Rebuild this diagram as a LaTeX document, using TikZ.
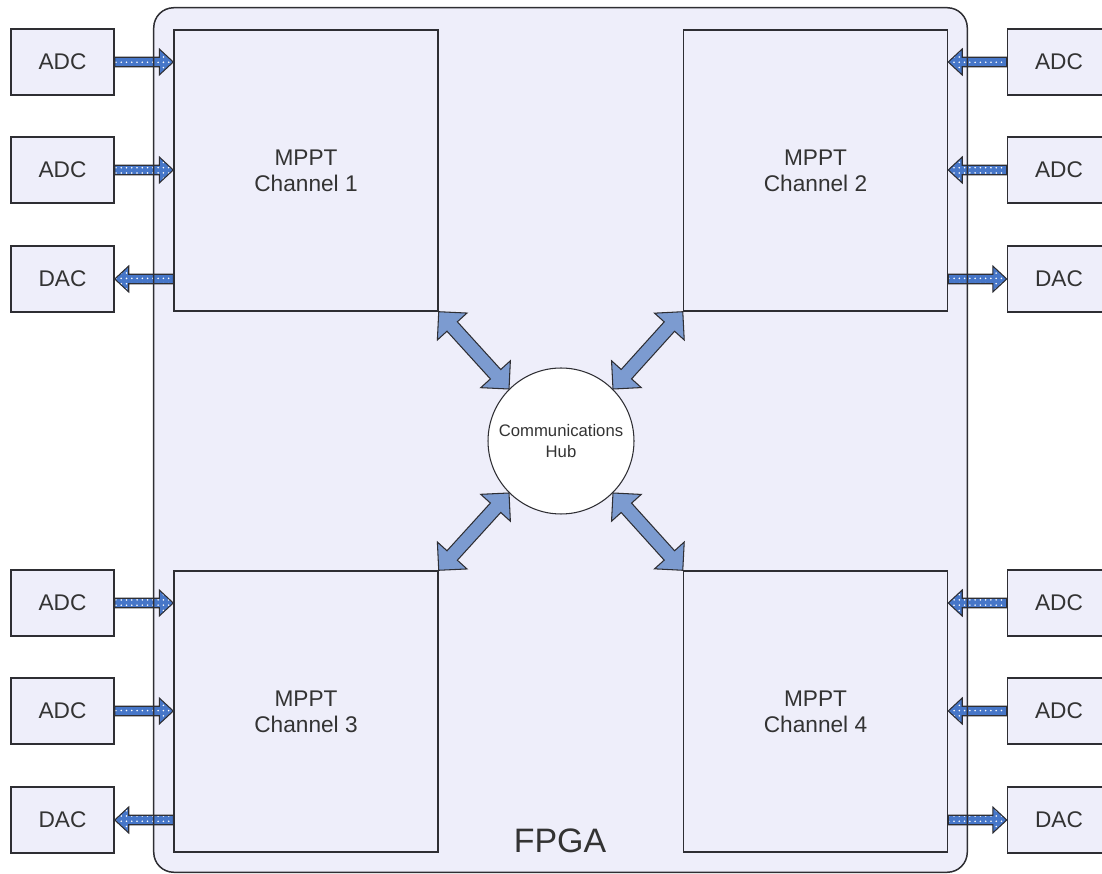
\documentclass[tikz,border=0pt]{standalone}
\usepackage{fontspec}
\setmainfont{Liberation Sans}
\usetikzlibrary{calc,patterns}
\definecolor{fpFill}{HTML}{EEEEFA}
\definecolor{fpLine}{HTML}{2E2E33}
\definecolor{fpText}{HTML}{333333}
\definecolor{fpArrow}{HTML}{7C9BD0}
\definecolor{fpDot}{HTML}{4676C8}

% block arrow, one head (signal lines)
\newcommand{\sigarrow}[2]{%
  \coordinate (sa) at (#1);
  \coordinate (sb) at (#2);
  \coordinate (sh) at ($(sb)!0.28cm!(sa)$);
  \draw[sigarr] ($(sa)!0.095cm!90:(sb)$) -- ($(sh)!0.095cm!90:(sb)$)
    -- ($(sh)!0.26cm!90:(sb)$) -- (sb) -- ($(sh)!0.26cm!-90:(sb)$)
    -- ($(sh)!0.095cm!-90:(sb)$) -- ($(sa)!0.095cm!-90:(sb)$) -- cycle;}

% block arrow, two heads (to the hub)
\newcommand{\hubarrow}[2]{%
  \coordinate (ha) at (#1);
  \coordinate (hb) at (#2);
  \coordinate (hp) at ($(ha)!0.4cm!(hb)$);
  \coordinate (hq) at ($(hb)!0.4cm!(ha)$);
  \draw[hubarr] (ha) -- ($(hp)!0.4cm!90:(hb)$) -- ($(hp)!0.14cm!90:(hb)$)
    -- ($(hq)!0.14cm!90:(hb)$) -- ($(hq)!0.4cm!90:(hb)$) -- (hb)
    -- ($(hq)!0.4cm!-90:(hb)$) -- ($(hq)!0.14cm!-90:(hb)$)
    -- ($(hp)!0.14cm!-90:(hb)$) -- ($(hp)!0.4cm!-90:(hb)$) -- cycle;}

\begin{document}
\begin{tikzpicture}[
      x=0.02cm, y=-0.02cm,
      text=fpText,
      fpgabox/.style={rounded corners=0.4cm, minimum width=16.26cm, minimum height=17.28cm,
                  fill=fpFill, draw=none},
      chanbox/.style={minimum width=5.28cm, minimum height=5.62cm, align=center,
                  draw=fpLine, line width=0.85pt, fill=fpFill,
                  font=\fontsize{12.9}{14.7}\selectfont},
      iobox/.style={minimum width=2.06cm, minimum height=1.32cm, inner sep=0pt,
                  draw=fpLine, line width=0.85pt, fill=fpFill,
                  font=\fontsize{12.9}{14.7}\selectfont},
      hubnode/.style={circle, minimum size=2.92cm, inner sep=0pt, align=center,
                  draw=fpLine, line width=0.6pt, fill=white,
                  font=\fontsize{9.5}{12.3}\selectfont},
      sigarr/.style={preaction={fill=fpDot}, pattern=dots, pattern color=white,
                  draw=fpLine, line width=0.6pt},
      hubarr/.style={fill=fpArrow, draw=fpLine, line width=0.6pt},
    ]
    \useasboundingbox (0,0) rectangle (1102,874);

    % ---------- FPGA ----------
    \node[fpgabox] (fpga) at (560.5,440) {};
    \node[anchor=base, font=\fontsize{19.3}{22}\selectfont] (fpgalbl) at (560,852) {FPGA};

    % ---------- MPPT channels ----------
    \node[chanbox] (ch1) at (306,170.5)   {MPPT\\Channel 1};
    \node[chanbox] (ch2) at (815.5,170.5) {MPPT\\Channel 2};
    \node[chanbox] (ch3) at (306,711.5)   {MPPT\\Channel 3};
    \node[chanbox] (ch4) at (815.5,711.5) {MPPT\\Channel 4};

    % ---------- hub ----------
    \node[hubnode] (hub) at (561,441) {Communications\\Hub};

    % ---------- converters ----------
    \node[iobox] (adc1a) at (62.5,62)  {ADC};
    \node[iobox] (adc1b) at (62.5,170) {ADC};
    \node[iobox] (dac1)  at (62.5,279) {DAC};
    \node[iobox] (adc2a) at (1059,62)  {ADC};
    \node[iobox] (adc2b) at (1059,170) {ADC};
    \node[iobox] (dac2)  at (1059,279) {DAC};
    \node[iobox] (adc3a) at (62.5,603) {ADC};
    \node[iobox] (adc3b) at (62.5,711) {ADC};
    \node[iobox] (dac3)  at (62.5,820) {DAC};
    \node[iobox] (adc4a) at (1059,603) {ADC};
    \node[iobox] (adc4b) at (1059,711) {ADC};
    \node[iobox] (dac4)  at (1059,820) {DAC};

    % ---------- signal arrows ----------
    \sigarrow{adc1a.east}{adc1a.east -| ch1.west}
    \sigarrow{adc1b.east}{adc1b.east -| ch1.west}
    \sigarrow{dac1.east -| ch1.west}{dac1.east}
    \sigarrow{adc2a.west}{adc2a.west -| ch2.east}
    \sigarrow{adc2b.west}{adc2b.west -| ch2.east}
    \sigarrow{dac2.west -| ch2.east}{dac2.west}
    \sigarrow{adc3a.east}{adc3a.east -| ch3.west}
    \sigarrow{adc3b.east}{adc3b.east -| ch3.west}
    \sigarrow{dac3.east -| ch3.west}{dac3.east}
    \sigarrow{adc4a.west}{adc4a.west -| ch4.east}
    \sigarrow{adc4b.west}{adc4b.west -| ch4.east}
    \sigarrow{dac4.west -| ch4.east}{dac4.west}

    % ---------- FPGA outline over the arrows ----------
    \draw[fpLine, line width=0.85pt, rounded corners=0.4cm]
      (fpga.south west) rectangle (fpga.north east);

    % ---------- links to the hub ----------
    \hubarrow{ch1.south east}{hub.135}
    \hubarrow{ch2.south west}{hub.45}
    \hubarrow{ch3.north east}{hub.-135}
    \hubarrow{ch4.north west}{hub.-45}

  \end{tikzpicture}
\end{document}
